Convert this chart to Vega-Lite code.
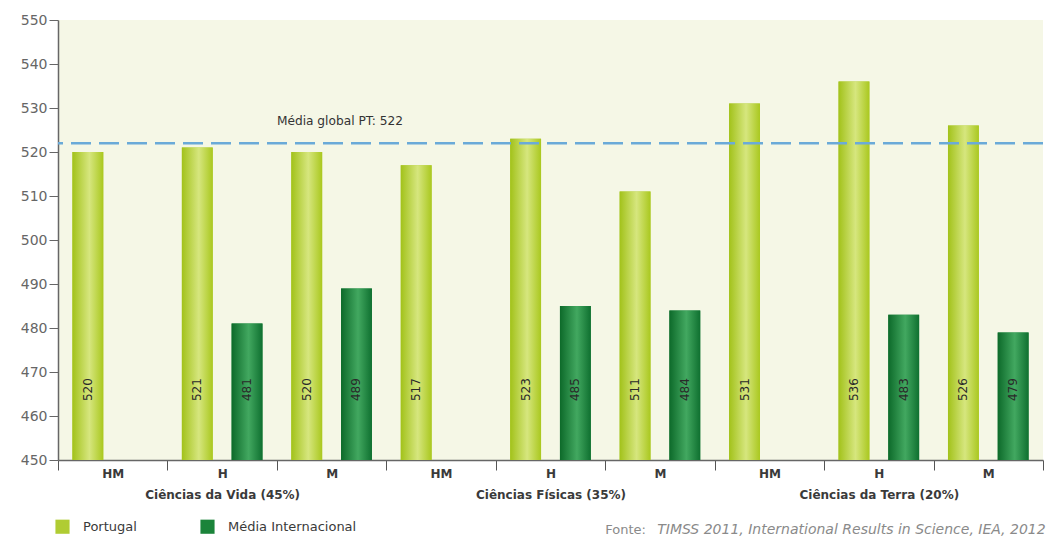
{
  "$schema": "https://vega.github.io/schema/vega-lite/v6.json",
  "width": 985,
  "height": 440,
  "autosize": {"type": "none"},
  "padding": {"left": 58, "top": 20, "right": 3, "bottom": 78},
  "background": "white",
  "config": {
    "font": "DejaVu Sans",
    "view": {"fill": "#f5f7e6", "stroke": null}
  },
  "data": {
    "values": [
      {"pos": "1", "area": "Ciências da Vida (45%)", "sub": "HM", "serie": "Portugal", "valor": 520},
      {"pos": "2", "area": "Ciências da Vida (45%)", "sub": "H", "serie": "Portugal", "valor": 521},
      {"pos": "2", "area": "Ciências da Vida (45%)", "sub": "H", "serie": "Média Internacional", "valor": 481},
      {"pos": "3", "area": "Ciências da Vida (45%)", "sub": "M", "serie": "Portugal", "valor": 520},
      {"pos": "3", "area": "Ciências da Vida (45%)", "sub": "M", "serie": "Média Internacional", "valor": 489},
      {"pos": "4", "area": "Ciências Físicas (35%)", "sub": "HM", "serie": "Portugal", "valor": 517},
      {"pos": "5", "area": "Ciências Físicas (35%)", "sub": "H", "serie": "Portugal", "valor": 523},
      {"pos": "5", "area": "Ciências Físicas (35%)", "sub": "H", "serie": "Média Internacional", "valor": 485},
      {"pos": "6", "area": "Ciências Físicas (35%)", "sub": "M", "serie": "Portugal", "valor": 511},
      {"pos": "6", "area": "Ciências Físicas (35%)", "sub": "M", "serie": "Média Internacional", "valor": 484},
      {"pos": "7", "area": "Ciências da Terra (20%)", "sub": "HM", "serie": "Portugal", "valor": 531},
      {"pos": "8", "area": "Ciências da Terra (20%)", "sub": "H", "serie": "Portugal", "valor": 536},
      {"pos": "8", "area": "Ciências da Terra (20%)", "sub": "H", "serie": "Média Internacional", "valor": 483},
      {"pos": "9", "area": "Ciências da Terra (20%)", "sub": "M", "serie": "Portugal", "valor": 526},
      {"pos": "9", "area": "Ciências da Terra (20%)", "sub": "M", "serie": "Média Internacional", "valor": 479}
    ]
  },
  "encoding": {
    "x": {
      "field": "pos",
      "type": "nominal",
      "sort": ["1", "2", "3", "4", "5", "6", "7", "8", "9"],
      "scale": {"domain": ["1", "2", "3", "4", "5", "6", "7", "8", "9"], "paddingInner": 0, "paddingOuter": 0},
      "axis": {
        "title": null,
        "labelAngle": 0,
        "labelOverlap": false,
        "labelExpr": "datum.value == '2' ? ['H', 'Ciências da Vida (45%)'] : datum.value == '5' ? ['H', 'Ciências Físicas (35%)'] : datum.value == '8' ? ['H', 'Ciências da Terra (20%)'] : (datum.value == '1' || datum.value == '4' || datum.value == '7') ? 'HM' : (datum.value == '3' || datum.value == '6' || datum.value == '9') ? 'M' : ''",
        "labelFontSize": 12,
        "labelFontWeight": "bold",
        "labelColor": "#3a3a3a",
        "labelLineHeight": 21,
        "labelPadding": -2,
        "tickBand": "extent",
        "tickSize": 10,
        "tickColor": "#555555",
        "domainColor": "#666666",
        "domainWidth": 1.5
      }
    }
  },
  "layer": [
    {
      "mark": {"type": "bar"},
      "encoding": {
        "xOffset": {"field": "serie", "type": "nominal", "scale": {"domain": ["Portugal", "Média Internacional"], "paddingInner": 0.38, "paddingOuter": 0.29}},
        "y": {
          "field": "valor",
          "type": "quantitative",
          "scale": {"domain": [450, 550], "zero": false, "nice": false},
          "axis": {
            "title": null,
            "values": [450, 460, 470, 480, 490, 500, 510, 520, 530, 540, 550],
            "grid": false,
            "labelFontSize": 14,
            "labelColor": "#666666",
            "labelPadding": 2,
            "tickColor": "#666666",
            "tickSize": 9,
            "domainColor": "#666666",
            "domainWidth": 1.5
          }
        },
        "y2": {"datum": 450},
        "color": {
          "field": "serie",
          "type": "nominal",
          "scale": {"domain": ["Portugal", "Média Internacional"], "range": ["#b0cc33", "#1b843a"]},
          "legend": {
            "title": null,
            "orient": "none",
            "legendX": -3,
            "legendY": 499,
            "direction": "horizontal",
            "symbolType": "square",
            "symbolSize": 200,
            "symbolStrokeWidth": 0,
            "labelFontSize": 13,
            "labelColor": "#3a3a3a",
            "labelOffset": 13,
            "columnPadding": 63
          }
        }
      }
    },
    {
      "transform": [{"filter": "datum.serie == 'Portugal'"}],
      "mark": {
        "type": "bar",
        "color": {
          "gradient": "linear", "x1": 0, "x2": 1, "y1": 0, "y2": 0,
          "stops": [
            {"offset": 0, "color": "#a2c21a"},
            {"offset": 0.55, "color": "#d6e67e"},
            {"offset": 1, "color": "#aac81f"}
          ]
        }
      },
      "encoding": {
        "xOffset": {"field": "serie", "type": "nominal"},
        "y": {"field": "valor", "type": "quantitative"},
        "y2": {"datum": 450}
      }
    },
    {
      "transform": [{"filter": "datum.serie == 'Média Internacional'"}],
      "mark": {
        "type": "bar",
        "color": {
          "gradient": "linear", "x1": 0, "x2": 1, "y1": 0, "y2": 0,
          "stops": [
            {"offset": 0, "color": "#0d6a2a"},
            {"offset": 0.55, "color": "#42a860"},
            {"offset": 1, "color": "#0f7030"}
          ]
        }
      },
      "encoding": {
        "xOffset": {"field": "serie", "type": "nominal"},
        "y": {"field": "valor", "type": "quantitative"},
        "y2": {"datum": 450}
      }
    },
    {
      "mark": {"type": "text", "angle": 270, "fontSize": 12, "color": "#2a2a2a", "baseline": "middle", "align": "center"},
      "encoding": {
        "xOffset": {"field": "serie", "type": "nominal"},
        "y": {"datum": 466, "type": "quantitative"},
        "text": {"field": "valor", "type": "quantitative"}
      }
    },
    {
      "data": {"values": [{"media": 522}]},
      "mark": {"type": "rule", "color": "#6aaad8", "strokeWidth": 2.5, "strokeDash": [20, 8]},
      "encoding": {
        "x": null,
        "y": {"field": "media", "type": "quantitative"}
      }
    },
    {
      "data": {"values": [{"nota": "Média global PT: 522", "posicao": "3", "altura": 527}]},
      "mark": {"type": "text", "fontSize": 12.2, "color": "#333333", "align": "left", "baseline": "middle"},
      "encoding": {
        "x": {"field": "posicao", "type": "nominal", "bandPosition": 0},
        "y": {"field": "altura", "type": "quantitative"},
        "text": {"field": "nota"}
      }
    },
    {
      "data": {"values": [{"fonte": "Fonte:", "posicao": "6", "altura": 434}]},
      "mark": {"type": "text", "fontSize": 13, "color": "#8a8a8a", "align": "left", "baseline": "middle"},
      "encoding": {
        "x": {"field": "posicao", "type": "nominal", "bandPosition": 0},
        "y": {"field": "altura", "type": "quantitative"},
        "text": {"field": "fonte"}
      }
    },
    {
      "data": {"values": [{"obra": "TIMSS 2011, International Results in Science, IEA, 2012", "posicao": "6", "altura": 434}]},
      "mark": {"type": "text", "fontSize": 14, "fontStyle": "italic", "color": "#8a8a8a", "align": "left", "baseline": "middle", "dx": 52},
      "encoding": {
        "x": {"field": "posicao", "type": "nominal", "bandPosition": 0},
        "y": {"field": "altura", "type": "quantitative"},
        "text": {"field": "obra"}
      }
    }
  ]
}
